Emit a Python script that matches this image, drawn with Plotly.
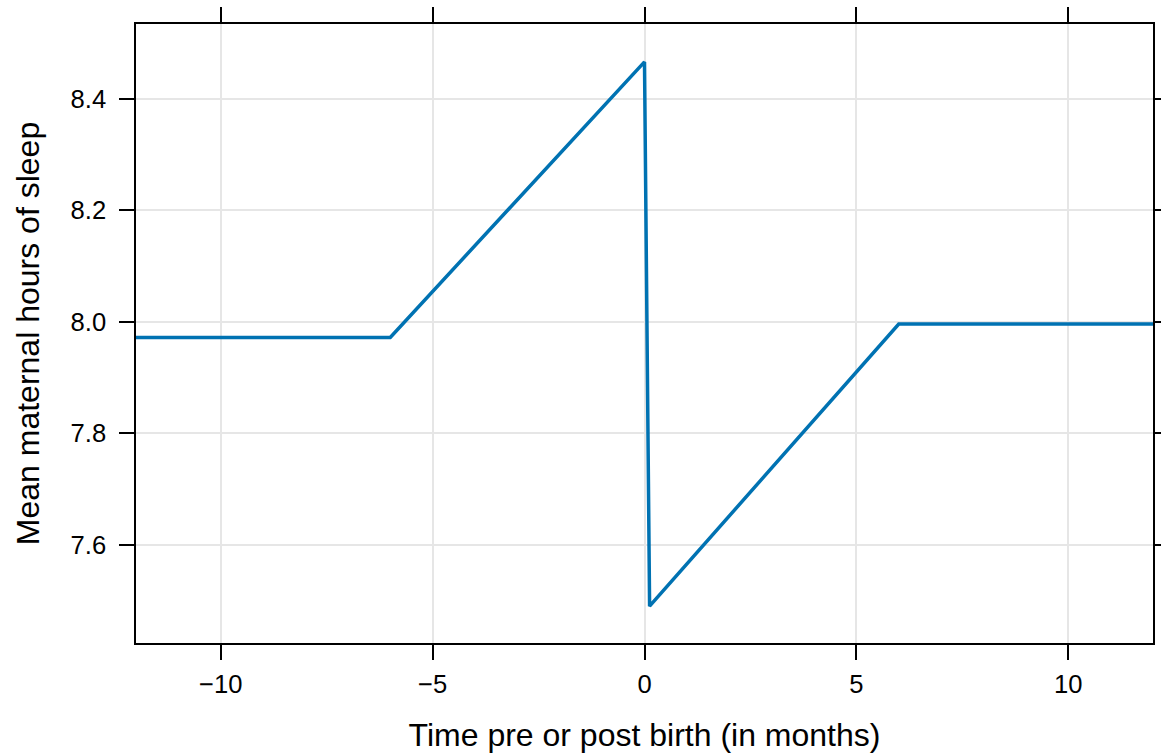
import plotly.graph_objects as go

# Mean maternal sleep around the birth of a child (piecewise trajectory)
months = [-12, -6, 0, 0.12, 6, 12]
sleep_hours = [7.972, 7.972, 8.466, 7.49, 7.996, 7.996]

x_ticks = [-10, -5, 0, 5, 10]
x_tick_text = ["\u221210", "\u22125", "0", "5", "10"]
y_ticks = [7.6, 7.8, 8.0, 8.2, 8.4]
y_tick_text = ["7.6", "7.8", "8.0", "8.2", "8.4"]

font_family = "Liberation Sans, Arial, Helvetica, sans-serif"

fig = go.Figure()
fig.add_trace(go.Scatter(
    x=months, y=sleep_hours, mode="lines",
    line=dict(color="#0072B2", width=3.5),
    hoverinfo="skip", showlegend=False,
))

axis_common = dict(
    showline=True, linecolor="black", linewidth=1.5, mirror="ticks",
    ticks="outside", ticklen=15, tickwidth=1.5, tickcolor="black",
    showgrid=True, gridcolor="#e6e6e6", gridwidth=1.5,
    zeroline=False, automargin=False,
    tickfont=dict(family=font_family, size=25.6, color="black"),
)

fig.update_xaxes(
    range=[-12, 12], tickvals=x_ticks, ticktext=x_tick_text,
    title=dict(text="Time pre or post birth (in months)",
               font=dict(family=font_family, size=32, color="black"),
               standoff=26),
    ticklabelstandoff=3,
    **axis_common,
)
fig.update_yaxes(
    range=[7.424, 8.534], tickvals=y_ticks, ticktext=y_tick_text,
    title=dict(text="Mean maternal hours of sleep",
               font=dict(family=font_family, size=32, color="black"),
               standoff=21),
    ticklabelstandoff=8,
    **axis_common,
)

fig.update_layout(
    width=1161, height=755,
    margin=dict(l=136, r=8, t=24, b=112),
    paper_bgcolor="white", plot_bgcolor="white",
    font=dict(family=font_family, color="black"),
)

fig.write_html("out.html")
